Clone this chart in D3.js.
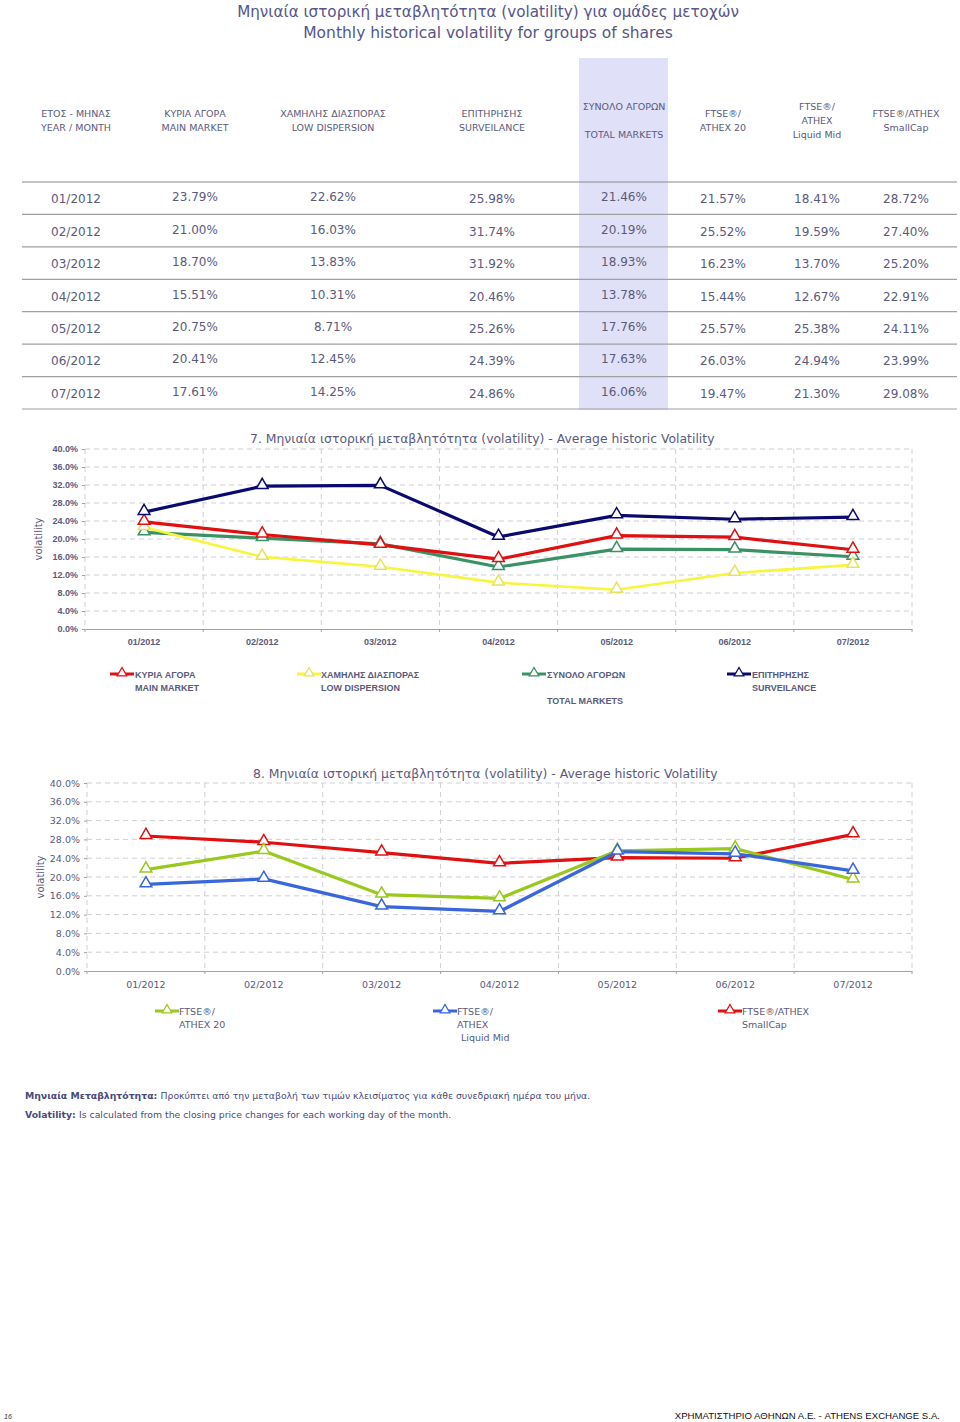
<!DOCTYPE html>
<html>
<head>
<meta charset="utf-8">
<script src="https://cdn.jsdelivr.net/npm/d3@7"></script>
<style>
  body { margin: 0; background: #fff; }
  svg { display: block; }
</style>
</head>
<body>
<svg id="page" width="960" height="1422"></svg>
<script>
// data read from the page
const months = ["01/2012", "02/2012", "03/2012", "04/2012", "05/2012", "06/2012", "07/2012"];
const mainMarket = [23.79, 21.00, 18.70, 15.51, 20.75, 20.41, 17.61];
const lowDispersion = [22.62, 16.03, 13.83, 10.31, 8.71, 12.45, 14.25];
const surveillance = [25.98, 31.74, 31.92, 20.46, 25.26, 24.39, 24.86];
const totalMarkets = [21.46, 20.19, 18.93, 13.78, 17.76, 17.63, 16.06];
const athex20 = [21.57, 25.52, 16.23, 15.44, 25.57, 26.03, 19.47];
const liquidMid = [18.41, 19.59, 13.70, 12.67, 25.38, 24.94, 21.30];
const smallCap = [28.72, 27.40, 25.20, 22.91, 24.11, 23.99, 29.08];
const yTicks = [0, 4, 8, 12, 16, 20, 24, 28, 32, 36, 40];

const headers = [
  ["ΕΤΟΣ - ΜΗΝΑΣ", "YEAR / MONTH"],
  ["ΚΥΡΙΑ ΑΓΟΡΑ", "MAIN MARKET"],
  ["ΧΑΜΗΛΗΣ ΔΙΑΣΠΟΡΑΣ", "LOW DISPERSION"],
  ["ΕΠΙΤΗΡΗΣΗΣ", "SURVEILANCE"],
  ["ΣΥΝΟΛΟ ΑΓΟΡΩΝ", "", "TOTAL MARKETS"],
  ["FTSE®/", "ATHEX 20"],
  ["FTSE®/", "ATHEX", "Liquid Mid"],
  ["FTSE®/ATHEX", "SmallCap"]
];
const columns = [mainMarket, lowDispersion, surveillance, totalMarkets, athex20, liquidMid, smallCap];

const textCol = "#5a5a7c";
const svg = d3.select("#page");
svg.append("rect").attr("width", 960).attr("height", 1422).attr("fill", "#fff");

// page title
svg.append("text").attr("x", 488).attr("y", 17).attr("text-anchor", "middle")
  .attr("font-family", "DejaVu Sans").attr("font-size", 15.2).attr("fill", "#55558a")
  .text("Μηνιαία ιστορική μεταβλητότητα (volatility) για ομάδες μετοχών");
svg.append("text").attr("x", 488).attr("y", 38).attr("text-anchor", "middle")
  .attr("font-family", "DejaVu Sans").attr("font-size", 15.5).attr("fill", "#55558a")
  .text("Monthly historical volatility for groups of shares");

// ---- table ----
const colX = [76, 195, 333, 492, 624, 723, 817, 906];
svg.append("rect").attr("x", 579).attr("y", 58).attr("width", 89).attr("height", 352)
  .attr("fill", "#e0e0f8");

headers.forEach((lines, i) => {
  const n = lines.length;
  const t = svg.append("text").attr("text-anchor", "middle")
    .attr("font-family", "DejaVu Sans").attr("font-size", 9.5).attr("fill", textCol);
  lines.forEach((l, j) => {
    t.append("tspan").attr("x", colX[i]).attr("y", 124 - (n - 1) * 7 + j * 14).text(l);
  });
});

const rowY = d3.scaleBand().domain(months).range([182, 409]);
svg.selectAll(".rowline").data(d3.range(months.length + 1)).join("line")
  .attr("x1", 22).attr("x2", 957)
  .attr("y1", (d) => 182 + d * rowY.step()).attr("y2", (d) => 182 + d * rowY.step())
  .attr("stroke", (d) => (d === 0 ? "#8a8a8a" : "#a0a0a0")).attr("stroke-width", 1.2);

svg.selectAll(".month").data(months).join("text")
  .attr("x", colX[0]).attr("y", (d) => rowY(d) + rowY.bandwidth() / 2 + 5)
  .attr("text-anchor", "middle").attr("font-family", "DejaVu Sans").attr("font-size", 12)
  .attr("fill", textCol).text((d) => d);

columns.forEach((vals, ci) => {
  svg.selectAll(".c" + ci).data(vals).join("text")
    .attr("x", colX[ci + 1]).attr("y", (d, i) => rowY(months[i]) + rowY.bandwidth() / 2 + (ci < 2 || ci === 3 ? 3 : 5))
    .attr("text-anchor", "middle").attr("font-family", "DejaVu Sans").attr("font-size", 12)
    .attr("fill", textCol).text((d) => d.toFixed(2) + "%");
});

// ---- charts ----
function drawChart(opt) {
  const g = svg.append("g");
  const x = d3.scaleBand().domain(months).range([opt.left, opt.right]);
  const y = d3.scaleLinear().domain([0, 40]).range([opt.bottom, opt.top]);

  // horizontal grid
  g.selectAll(".hg").data(yTicks.slice(1)).join("line")
    .attr("x1", opt.left).attr("x2", opt.right)
    .attr("y1", (d) => y(d)).attr("y2", (d) => y(d))
    .attr("stroke", "#cfcfd6").attr("stroke-dasharray", "5,4");
  // vertical grid
  const bounds = months.map((m) => x(m)).concat([opt.right]);
  g.selectAll(".vg").data(bounds).join("line")
    .attr("x1", (d) => d).attr("x2", (d) => d)
    .attr("y1", opt.top).attr("y2", opt.bottom)
    .attr("stroke", "#cfcfd6").attr("stroke-dasharray", "5,4");

  // bottom axis
  const xa = g.append("g").attr("transform", `translate(0,${opt.bottom})`)
    .call(d3.axisBottom(x).tickSize(0).tickPadding(10));
  xa.select(".domain").attr("stroke", "#a0a0a8");
  xa.selectAll("text").attr("font-family", opt.font).attr("font-weight", opt.bold ? "bold" : "normal")
    .attr("font-size", opt.bold ? 9 : 9.5).attr("fill", textCol);
  g.selectAll(".xt").data(bounds).join("line")
    .attr("x1", (d) => d).attr("x2", (d) => d)
    .attr("y1", opt.bottom).attr("y2", opt.bottom + 3).attr("stroke", "#a0a0a8");

  // left axis
  const ya = g.append("g").attr("transform", `translate(${opt.left},0)`)
    .call(d3.axisLeft(y).tickValues(yTicks).tickSize(3).tickPadding(4)
      .tickFormat((d) => d.toFixed(1) + "%"));
  ya.select(".domain").remove();
  ya.selectAll("line").attr("stroke", "#a0a0a8");
  ya.selectAll("text").attr("font-family", opt.font).attr("font-weight", opt.bold ? "bold" : "normal")
    .attr("font-size", opt.bold ? 9 : 9.5).attr("fill", textCol);

  g.append("text")
    .attr("transform", `translate(${opt.left - 43},${(opt.top + opt.bottom) / 2}) rotate(-90)`)
    .attr("text-anchor", "middle").attr("font-family", "DejaVu Sans").attr("font-size", 10)
    .attr("fill", textCol).text("volatility");

  g.append("text").attr("x", opt.titleX).attr("y", opt.titleY)
    .attr("font-family", "DejaVu Sans").attr("font-size", 12.4).attr("fill", "#5a5a80")
    .text(opt.title);

  const line = d3.line().x((d, i) => x(months[i]) + x.bandwidth() / 2).y((d) => y(d));
  const tri = d3.symbol().type(d3.symbolTriangle).size(60);

  opt.series.forEach((s) => {
    g.append("path").datum(s.values).attr("d", line)
      .attr("fill", "none").attr("stroke", s.color).attr("stroke-width", s.width || 3.2)
      .attr("stroke-linejoin", "round");
  });
  opt.series.forEach((s) => {
    g.selectAll(null).data(s.values).join("path")
      .attr("transform", (d, i) => `translate(${x(months[i]) + x.bandwidth() / 2},${y(d) - 1})`)
      .attr("d", tri).attr("fill", "#fff").attr("stroke", s.marker || s.color).attr("stroke-width", 1.5);
  });

  // legend
  opt.series.forEach((s) => {
    const lg = svg.append("g").attr("transform", `translate(${s.lx},${opt.legendY})`);
    lg.append("line").attr("x1", 0).attr("x2", 24).attr("y1", 0).attr("y2", 0)
      .attr("stroke", s.color).attr("stroke-width", 3);
    lg.append("path").attr("transform", "translate(12,-1)").attr("d", d3.symbol().type(d3.symbolTriangle).size(40))
      .attr("fill", "#fff").attr("stroke", s.marker || s.color).attr("stroke-width", 1.3);
    const t = lg.append("text").attr("font-family", opt.font)
      .attr("font-weight", opt.bold ? "bold" : "normal").attr("font-size", opt.bold ? 9 : 9.5)
      .attr("fill", textCol);
    s.label.forEach((l, j) => {
      t.append("tspan").attr("x", s.tx[j]).attr("y", 4 + j * 13).text(l);
    });
  });
}

drawChart({
  left: 85, right: 912, top: 449, bottom: 629, bold: true, font: "Liberation Sans",
  title: "7. Μηνιαία ιστορική μεταβλητότητα (volatility) - Average historic Volatility",
  titleX: 250, titleY: 443, legendY: 674,
  series: [
    { values: totalMarkets, color: "#3a9163", label: ["ΣΥΝΟΛΟ ΑΓΟΡΩΝ", "", "TOTAL MARKETS"], lx: 522, tx: [25, 25, 25] },
    { values: lowDispersion, color: "#f7f53c", marker: "#e8e060", width: 2.6, label: ["ΧΑΜΗΛΗΣ ΔΙΑΣΠΟΡΑΣ", "LOW DISPERSION"], lx: 297, tx: [24, 24] },
    { values: mainMarket, color: "#e01010", label: ["ΚΥΡΙΑ ΑΓΟΡΑ", "MAIN MARKET"], lx: 110, tx: [25, 25] },
    { values: surveillance, color: "#0a0a6e", label: ["ΕΠΙΤΗΡΗΣΗΣ", "SURVEILANCE"], lx: 727, tx: [25, 25] }
  ]
});

drawChart({
  left: 87, right: 912, top: 783, bottom: 971, bold: false, font: "DejaVu Sans",
  title: "8. Μηνιαία ιστορική μεταβλητότητα (volatility) - Average historic Volatility",
  titleX: 253, titleY: 778, legendY: 1011,
  series: [
    { values: smallCap, color: "#e01010", label: ["FTSE®/ATHEX", "SmallCap"], lx: 718, tx: [24, 24] },
    { values: athex20, color: "#99c91c", label: ["FTSE®/", "ATHEX 20"], lx: 155, tx: [24, 24] },
    { values: liquidMid, color: "#3a66dd", label: ["FTSE®/", "ATHEX", "Liquid Mid"], lx: 433, tx: [24, 24, 28] }
  ]
});

// notes
const note1 = svg.append("text").attr("x", 25).attr("y", 1099).attr("font-family", "DejaVu Sans")
  .attr("font-size", 9.3).attr("fill", "#4a4a7a");
note1.append("tspan").attr("font-weight", "bold").text("Μηνιαία Μεταβλητότητα: ");
note1.append("tspan").text("Προκύπτει από την μεταβολή των τιμών κλεισίματος για κάθε συνεδριακή ημέρα του μήνα.");
const note2 = svg.append("text").attr("x", 25).attr("y", 1118).attr("font-family", "DejaVu Sans")
  .attr("font-size", 9.3).attr("fill", "#4a4a7a");
note2.append("tspan").attr("font-weight", "bold").text("Volatility: ");
note2.append("tspan").text("Is calculated from the closing price changes for each working day of the month.");

// footer
svg.append("text").attr("x", 4).attr("y", 1419).attr("font-family", "Liberation Sans")
  .attr("font-size", 7).attr("font-style", "italic").attr("fill", "#333").text("16");
svg.append("text").attr("x", 940).attr("y", 1419).attr("text-anchor", "end").attr("font-family", "Liberation Sans")
  .attr("font-size", 9.6).attr("fill", "#111").text("ΧΡΗΜΑΤΙΣΤΗΡΙΟ ΑΘΗΝΩΝ Α.Ε. - ATHENS EXCHANGE S.A.");
</script>
</body>
</html>
